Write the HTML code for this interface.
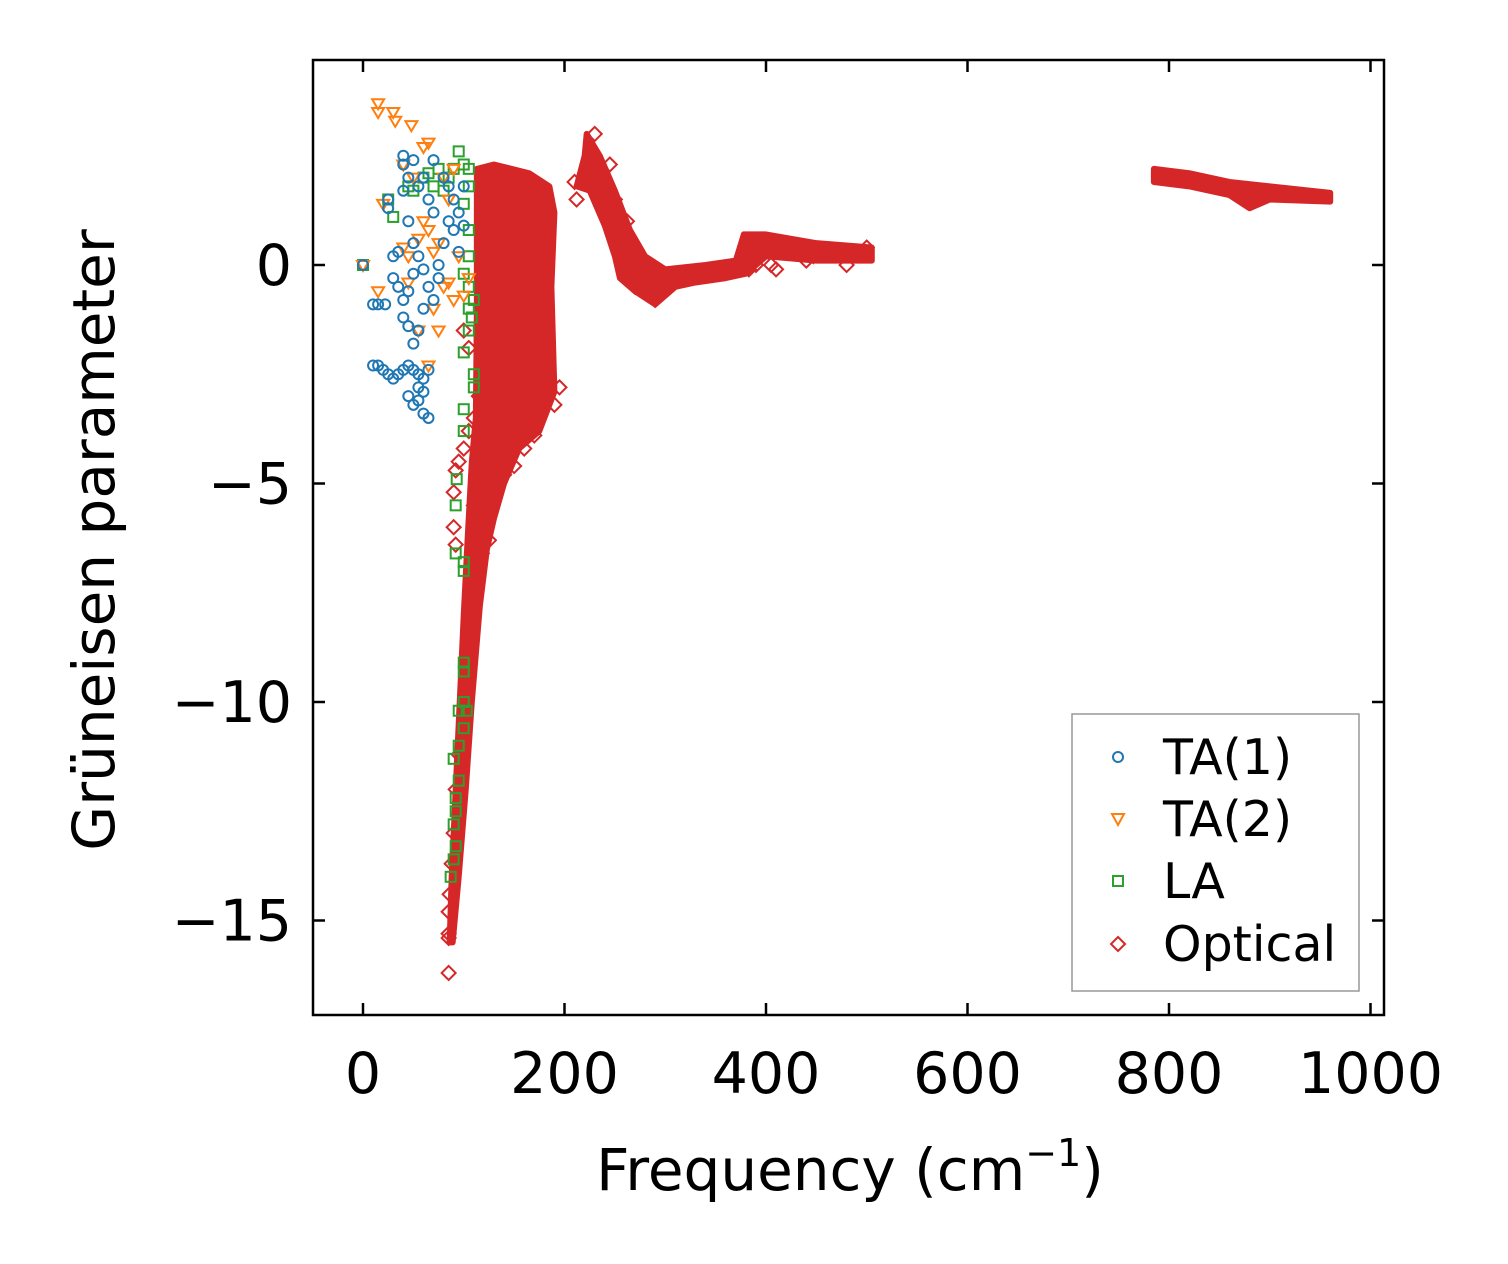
<!DOCTYPE html>
<html><head><meta charset="utf-8">
<style>
html,body{margin:0;padding:0;background:#fff;}
svg{display:block;font-family:"DejaVu Sans","Liberation Sans",sans-serif;}
</style></head>
<body>
<svg id="chart" width="1508" height="1264" viewBox="0 0 1508 1264" xmlns="http://www.w3.org/2000/svg">
<rect x="0" y="0" width="1508" height="1264" fill="#fff"/>
<g id="marks"></g>
<rect x="313" y="60" width="1071" height="955" fill="none" stroke="#000" stroke-width="2.5"/>
<g id="ticks"></g>
<text x="850" y="1190" font-size="58" text-anchor="middle">Frequency (cm<tspan font-size="38" dy="-24">−1</tspan><tspan dy="24">)</tspan></text>
<text transform="translate(114,540) rotate(-90)" font-size="58" text-anchor="middle">Grüneisen parameter</text>
<g>
<rect x="1072" y="714" width="287" height="277" fill="#fff" stroke="#999" stroke-width="1.5"/>
<circle cx="1118" cy="757" r="5" fill="none" stroke="#1f77b4" stroke-width="2"/>
<text x="1163" y="774" font-size="49">TA(1)</text>
<path d="M1112 814 L1124 814 L1118 825 Z" fill="none" stroke="#ff7f0e" stroke-width="2"/>
<text x="1163" y="836" font-size="49">TA(2)</text>
<rect x="1113" y="876" width="10" height="10" fill="none" stroke="#2ca02c" stroke-width="2"/>
<text x="1163" y="898" font-size="49">LA</text>
<path d="M1118 937 L1125 944 L1118 951 L1111 944 Z" fill="none" stroke="#d62728" stroke-width="2"/>
<text x="1163" y="961" font-size="49">Optical</text>
</g>
</svg>
<script>
const xTicks=[0,200,400,600,800,1000];
const yTicks=[0,-5,-10,-15];
const yTickLabels=["0","−5","−10","−15"];
const ta1=[[0,0],[10,-0.9],[15,-0.9],[22,-0.9],[10,-2.3],[15,-2.3],[20,-2.4],[25,-2.5],[30,-2.6],[35,-2.5],[40,-2.4],[45,-2.3],[50,-2.4],[55,-2.5],[60,-2.6],[65,-2.4],[45,-3.0],[50,-3.2],[55,-3.1],[60,-3.4],[65,-3.5],[55,-2.8],[60,-2.9],[25,1.5],[25,1.3],[30,0.2],[30,-0.3],[35,-0.5],[40,-0.8],[40,-1.2],[45,-1.4],[50,-1.8],[55,-1.5],[40,2.5],[40,2.3],[45,2.0],[50,2.4],[55,1.8],[60,2.0],[70,2.4],[40,1.7],[45,1.0],[50,0.5],[55,0.2],[60,-0.1],[65,-0.5],[70,-0.8],[75,0.0],[80,0.5],[85,1.0],[90,1.5],[95,1.2],[100,1.8],[80,2.0],[85,1.8],[90,0.8],[95,0.3],[100,0.9],[75,-0.3],[35,0.3],[50,-0.2],[60,-1.0],[45,-0.6],[70,1.2],[65,1.5]];
const ta2=[[0,0],[15,3.7],[15,3.5],[30,3.5],[32,3.3],[48,3.2],[60,2.7],[65,2.8],[40,2.3],[50,2.0],[20,1.4],[40,0.4],[45,0.2],[55,0.6],[60,1.0],[65,0.8],[70,0.3],[75,0.5],[80,-0.5],[85,-0.4],[90,-0.8],[100,-0.7],[105,-0.3],[95,0.2],[15,-0.6],[55,-1.5],[65,-2.3],[75,-1.5],[70,-1.0],[45,-0.4],[85,1.5],[80,2.0],[90,2.2]];
const la=[[0,0],[25,1.5],[30,1.1],[45,1.8],[50,1.7],[60,2.0],[65,2.1],[70,1.8],[75,2.2],[80,1.7],[85,2.0],[90,2.2],[95,2.6],[100,2.3],[105,2.2],[105,1.8],[100,1.4],[105,0.8],[105,0.2],[105,-0.5],[105,-1.0],[105,-1.5],[110,-0.8],[100,-2.0],[110,-2.5],[110,-2.8],[100,-3.3],[100,-3.8],[93,-4.9],[92,-5.5],[92,-6.6],[100,-6.8],[100,-7.0],[100,-9.1],[100,-9.3],[95,-10.2],[100,-10.6],[95,-11.0],[90,-11.3],[95,-11.8],[92,-12.2],[92,-12.5],[90,-12.8],[92,-13.3],[90,-13.6],[87,-14.0],[100,-10.0],[103,-10.2],[108,-1.2],[100,-0.2]];
const opticalPoints=[[85,-16.2],[85,-15.4],[85,-15.3],[85,-14.8],[86,-14.4],[88,-13.7],[90,-13.0],[92,-12.0],[95,-11.2],[90,-6.0],[92,-6.4],[90,-5.2],[92,-4.7],[95,-4.5],[100,-4.2],[105,-3.8],[110,-3.5],[100,-1.5],[105,-1.9],[115,-3.0],[130,-4.4],[140,-4.8],[145,-4.5],[135,-5.0],[110,-5.5],[115,-6.0],[120,-6.3],[125,-6.3],[440,0.1],[447,0.2],[480,0.0],[405,0.0],[410,-0.1],[500,0.4],[230,3.0],[245,2.3],[220,2.0],[212,1.5],[290,-0.8],[210,1.9],[195,-2.8],[190,-3.2],[170,-3.9],[160,-4.2],[150,-4.6],[128,-5.4],[118,-6.6],[112,-7.4],[108,-8.0],[250,1.5],[262,1.0],[270,-0.5],[280,-0.6],[383,-0.1],[390,0.0]];
const opticalRegion1=[[113,2.2],[130,2.3],[165,2.1],[185,1.8],[190,1.2],[187,-0.5],[190,-2.9],[175,-3.8],[155,-4.2],[140,-5.0],[130,-5.8],[123,-6.5],[116,-7.8],[108,-10],[102,-12],[95,-14],[89,-15.5],[86,-15.5],[88,-14],[92,-12],[96,-10],[100,-8],[104,-6.2],[108,-4.5],[112,-3.5],[113,-1]];
const opticalRegion2=[[222,3.0],[235,2.5],[250,1.7],[265,0.8],[280,0.2],[300,-0.1],[340,0.0],[370,0.1],[378,0.7],[400,0.7],[450,0.5],[505,0.4],[505,0.1],[450,0.1],[400,0.2],[380,-0.2],[360,-0.3],[330,-0.4],[310,-0.5],[290,-0.9],[270,-0.6],[255,-0.3],[250,0.2],[240,0.9],[225,1.7],[212,1.8],[220,2.5]];
const opticalRegion3=[[785,2.2],[820,2.1],[860,1.9],[900,1.8],[960,1.65],[960,1.45],[900,1.5],[880,1.3],[860,1.6],[820,1.8],[785,1.9]];

const NS="http://www.w3.org/2000/svg";
const xS=v=>363+v*1.0075;
const yS=v=>265-v*43.7;
const marks=document.getElementById('marks');
const ticks=document.getElementById('ticks');
function mk(tag,attrs,parent){const e=document.createElementNS(NS,tag);for(const k in attrs)e.setAttribute(k,attrs[k]);parent.appendChild(e);return e;}

[opticalRegion1,opticalRegion2,opticalRegion3].forEach((reg,i)=>{
  const p=mk('polygon',{points:reg.map(d=>xS(d[0])+','+yS(d[1])).join(' '),fill:'#d62728',stroke:'#d62728','stroke-width':6,'stroke-linejoin':'round'},marks);
  
  
});
opticalPoints.forEach(d=>{const x=xS(d[0]),y=yS(d[1]);
  const p=mk('path',{d:`M${x} ${y-7}L${x+7} ${y}L${x} ${y+7}L${x-7} ${y}Z`,fill:'none',stroke:'#d62728','stroke-width':2},marks);
  
  });
la.forEach(d=>{const x=xS(d[0]),y=yS(d[1]);
  const p=mk('rect',{x:x-5,y:y-5,width:10,height:10,fill:'none',stroke:'#2ca02c','stroke-width':2},marks);
  
  });
ta2.forEach(d=>{const x=xS(d[0]),y=yS(d[1]);
  const p=mk('path',{d:`M${x-6} ${y-4}L${x+6} ${y-4}L${x} ${y+6}Z`,fill:'none',stroke:'#ff7f0e','stroke-width':2},marks);
  
  });
ta1.forEach(d=>{
  const p=mk('circle',{cx:xS(d[0]),cy:yS(d[1]),r:5,fill:'none',stroke:'#1f77b4','stroke-width':2},marks);
  
  });

xTicks.forEach(v=>{const x=xS(v);
  mk('line',{x1:x,y1:1015,x2:x,y2:1003,stroke:'#000','stroke-width':2.5},ticks);
  mk('line',{x1:x,y1:60,x2:x,y2:72,stroke:'#000','stroke-width':2.5},ticks);
  const t=mk('text',{x:x,y:1093,'font-size':57,'text-anchor':'middle'},ticks);t.textContent=v;
  
  });
yTicks.forEach((v,i)=>{const y=yS(v);
  mk('line',{x1:313,y1:y,x2:325,y2:y,stroke:'#000','stroke-width':2.5},ticks);
  mk('line',{x1:1384,y1:y,x2:1372,y2:y,stroke:'#000','stroke-width':2.5},ticks);
  const t=mk('text',{x:292,y:y+20,'font-size':57,'text-anchor':'end'},ticks);t.textContent=yTickLabels[i];
  
  });
</script>
</body></html>
